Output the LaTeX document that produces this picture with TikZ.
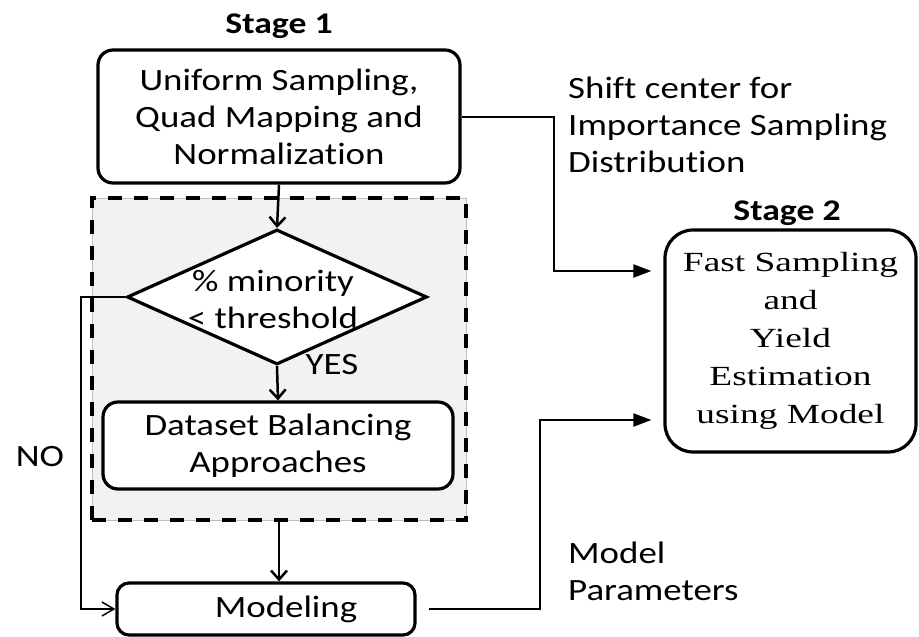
\documentclass[tikz,border=0pt]{standalone}
\usepackage{fontspec}
\setmainfont{Carlito}[FakeStretch=1.19, Ligatures=NoCommon]
\newfontfamily\stagetwoface{Liberation Serif}[FakeStretch=1.35]
\usetikzlibrary{arrows.meta,shapes.geometric}
\definecolor{groupfill}{RGB}{242,242,242}

\begin{document}
\begin{tikzpicture}[x=1pt,y=-1pt,
  every node/.style={font=\fontsize{31}{37}\selectfont, inner sep=0pt},
  procbox/.style={draw, line width=3.2pt, fill=white, rounded corners=15pt, align=center},
  decision/.style={draw, diamond, line width=3.2pt, fill=white},
  group/.style={draw=gray!50, line width=0.8pt, fill=groupfill,
    postaction={draw=black, line width=3.8pt, dash pattern=on 14pt off 12pt}},
  stagelabel/.style={font=\fontsize{30}{36}\selectfont\bfseries},
  note/.style={align=left, anchor=west},
  flow/.style={line width=2.5pt, -{Straight Barb[length=9pt,width=16pt]}},
  feed/.style={line width=2pt, -{Triangle[length=18pt,width=13pt]}},
  bypass/.style={line width=1.5pt, -{Straight Barb[length=12pt,width=14pt]}}
]
\useasboundingbox (0,0) rectangle (919,637);

% balancing stage, behind its contents
\node[group, minimum width=374pt, minimum height=322pt] (grp) at (279,359) {};

% stage 1 blocks
\node[stagelabel] (s1lab) at (279,26) {Stage 1};
\node[procbox, minimum width=362pt, minimum height=133pt] (top) at (279,116.5)
  {Uniform Sampling,\\Quad Mapping and\\Normalization};
\node[decision, minimum width=300pt, minimum height=135pt] (dec) at (277,297) {};
\node[align=center] (dectext) at (273,299) {\% minority\\< threshold};
\node (yes) at (332,365) {YES};
\node[procbox, minimum width=350pt, minimum height=87pt] (bal) at (278,445.5)
  {Dataset Balancing\\Approaches};
\node[procbox, rounded corners=12pt, minimum width=298pt, minimum height=52pt] (model) at (266,609)
  {\hspace*{40pt}Modeling};
\node (no) at (40,457) {NO};

% stage 2 block
\node[stagelabel] (s2lab) at (787,213) {Stage 2};
\node[procbox, rounded corners=28pt, minimum width=251pt, minimum height=222pt,
  font=\fontsize{27.7}{38}\stagetwoface] (est) at (790.5,341)
  {Fast Sampling\\and\\Yield\\Estimation\\using Model};

% connector labels
\node[note] (shiftlab) at (568,125) {Shift center for\\Importance Sampling\\Distribution};
\node[note] (paramlab) at (568,571) {Model\\Parameters};

% flow within stage 1
\draw[flow] (top.south) -- (dec.north);
\draw[flow] (dec.south) -- (bal.north);
\draw[flow] (grp.south) -- (grp.south |- model.north);
\coordinate (nobend) at (81,297);
\draw[bypass] (dec.west) -- (nobend) |- (model.west);

% feeds into stage 2
\coordinate (k1) at (554,271);
\draw[feed, shorten >=12pt] (top.east) -| (k1) -- (k1 -| est.west);
\coordinate (k2) at (540,420);
\draw[feed, shorten <=12pt, shorten >=12pt] (model.east) -| (k2) -- (k2 -| est.west);
\end{tikzpicture}
\end{document}
